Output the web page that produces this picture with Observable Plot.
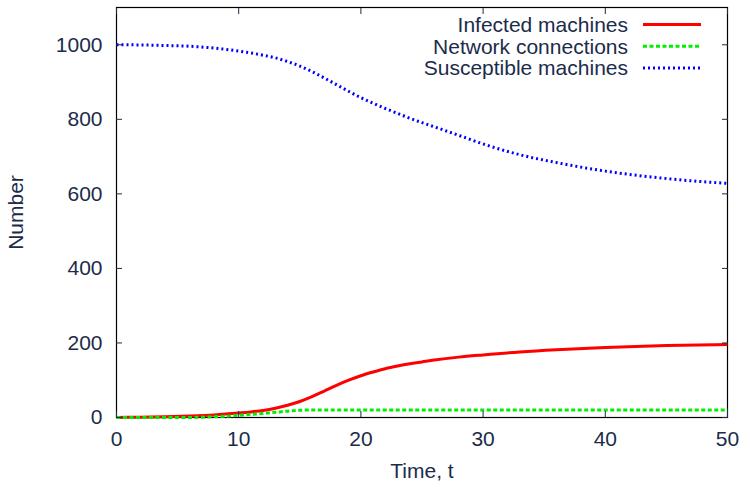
<!DOCTYPE html>
<html>
<head>
<meta charset="utf-8">
<script src="https://cdn.jsdelivr.net/npm/d3@7"></script>
<script src="https://cdn.jsdelivr.net/npm/@observablehq/plot@0.6"></script>
<style>
  html, body { margin: 0; padding: 0; background: white; }
</style>
</head>
<body>
<div id="chart"></div>
<script>
const seriesNames = ["Infected machines", "Network connections", "Susceptible machines"];
const seriesColors = ["#ff0000", "#00ee00", "#0000ff"];
const seriesDash = [null, "4,2.5", "2,3"];

const infectedT = [0, 2, 4, 6, 8, 10, 11, 12, 13, 14, 15, 16, 17, 18, 19, 20, 21, 22, 23, 24, 25, 26, 28, 30, 33, 36, 40, 45, 50];
const infectedV = [0, 1, 2, 4, 7, 12, 15, 19, 25, 33, 43, 56, 71, 86, 100, 112, 122, 131, 138, 144, 149, 154, 162, 168, 176, 182, 188, 193, 196];

const networkT = [0, 6, 7, 8, 9, 10, 11, 12, 13, 14, 15, 16, 17, 20, 30, 40, 50];
const networkV = [0, 0, 1, 2, 3.5, 6, 8, 11, 14, 17, 19.5, 20, 20, 20, 20, 20, 20];

const suscT = [0, 2, 4, 6, 8, 10, 11, 12, 13, 14, 15, 16, 17, 18, 19, 20, 21, 22, 23, 24, 25, 26, 28, 30, 33, 36, 40, 45, 50];
const suscV = [1000, 999.5, 998, 996, 991, 983, 978, 972, 965, 955, 943, 928, 911, 893, 875, 858, 843, 829, 816, 803, 791, 780, 757, 734, 705, 684, 661, 641, 628];

const xTicks = [0, 10, 20, 30, 40, 50];
const yTicks = [0, 200, 400, 600, 800, 1000];

const toRows = (ts, vs) => ts.map((t, i) => ({t, v: vs[i]}));
const data = [toRows(infectedT, infectedV), toRows(networkT, networkV), toRows(suscT, suscV)];

const textColor = "#1b2c4a";
const fontFamily = "'Liberation Sans', Arial, sans-serif";

const lineMarks = data.map((rows, i) => Plot.line(rows, {
  x: "t", y: "v", stroke: seriesColors[i], strokeWidth: 3,
  strokeDasharray: seriesDash[i], strokeLinecap: "butt", curve: "monotone-x"
}));

const chart = Plot.plot({
  width: 742,
  height: 481,
  marginLeft: 116,
  marginRight: 15,
  marginTop: 7,
  marginBottom: 64,
  style: {fontFamily, fontSize: "21px", color: textColor, background: "white"},
  x: {domain: [0, 50]},
  y: {domain: [0, 1100]},
  marks: [
    Plot.frame({stroke: "black", strokeWidth: 1.2}),
    ...lineMarks,
    Plot.axisX({anchor: "bottom", ticks: xTicks, tickSize: -6, tickPadding: 20, stroke: textColor,
      label: "Time, t", labelAnchor: "center", labelArrow: "none", labelOffset: 60}),
    Plot.axisX({anchor: "top", ticks: xTicks, tickSize: -6, tickFormat: () => "", label: null, stroke: textColor}),
    Plot.axisY({anchor: "left", ticks: yTicks, tickSize: -6, tickPadding: 20, tickFormat: d3.format("d"), stroke: textColor,
      label: "Number", labelAnchor: "center", labelArrow: "none", labelOffset: 108}),
    Plot.axisY({anchor: "right", ticks: yTicks, tickSize: -6, tickFormat: () => "", label: null, stroke: textColor})
  ]
});

// Legend inside top-right corner
const svg = d3.select(chart);
const lg = svg.append("g").attr("font-family", fontFamily).attr("font-size", 21);
seriesNames.forEach((name, i) => {
  const y = 24.5 + i * 21.7;
  lg.append("text").attr("x", 628).attr("y", y).attr("dy", "0.35em")
    .attr("text-anchor", "end").attr("fill", textColor).text(name);
  lg.append("line").attr("x1", 643).attr("x2", 701).attr("y1", y).attr("y2", y)
    .attr("stroke", seriesColors[i]).attr("stroke-width", 3)
    .attr("stroke-dasharray", seriesDash[i]);
});

document.getElementById("chart").appendChild(chart);
</script>
</body>
</html>
